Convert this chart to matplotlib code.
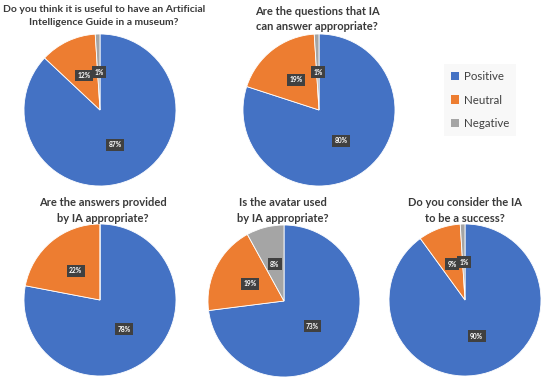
import matplotlib
matplotlib.use('Agg')
import matplotlib.pyplot as plt
from matplotlib.patches import Patch
import numpy as np

plt.rcParams['font.family'] = ['Lato', 'DejaVu Sans']

categories = ['Positive', 'Neutral', 'Negative']
colors = ['#4472C4', '#ED7D31', '#A5A5A5']

titles = [
    'Do you think it is useful to have an Artificial\nIntelligence Guide in a museum?',
    'Are the questions that IA\ncan answer appropriate?',
    'Are the answers provided\nby IA appropriate?',
    'Is the avatar used\nby IA appropriate?',
    'Do you consider the IA\nto be a success?',
]
q1 = [87, 12, 1]
q2 = [80, 19, 1]
q3 = [78, 22, 0]
q4 = [73, 19, 8]
q5 = [90, 9, 1]
answers = [q1, q2, q3, q4, q5]

W, H = 550, 390
# pie centres and radius in pixels, title centre x / top y, title size
centers = [(100, 110), (319, 110), (100, 300), (284, 301), (465, 300)]
radius = 76
title_pos = [(104, 5), (317, 6), (103, 197), (283, 197), (465, 197)]
title_size = [7.5, 8, 8, 8, 8]

fig = plt.figure(figsize=(W / 100, H / 100), dpi=100)

for vals, title, (cx, cy), (tx, ty), fs in zip(answers, titles, centers, title_pos, title_size):
    ax = fig.add_axes([(cx - radius) / W, (H - cy - radius) / H, 2 * radius / W, 2 * radius / H])
    ax.pie(vals, colors=colors, startangle=90, counterclock=False,
           wedgeprops=dict(edgecolor='white', linewidth=0.6))
    # percentage labels in dark boxes
    total = sum(vals)
    ang = 90.0
    for v in vals:
        if v == 0:
            continue
        mid = np.deg2rad(ang - 360.0 * v / total / 2)
        ang -= 360.0 * v / total
        ax.text(0.5 * np.cos(mid), 0.5 * np.sin(mid), f'{v}%', ha='center', va='center',
                fontsize=4.8, fontweight='bold', color='white',
                bbox=dict(boxstyle='square,pad=0.35', fc='#404040', ec='none'))
    ax.set_xlim(-1, 1)
    ax.set_ylim(-1, 1)
    ax.set_aspect('equal')
    fig.text(tx / W, 1 - ty / H, title, ha='center', va='top', fontsize=fs,
             fontweight='bold', color='#3a3a3a', linespacing=1.6 if fs < 8 else 1.5)

handles = [Patch(facecolor=c, edgecolor='none') for c in colors]
leg = fig.legend(handles, categories, loc='center', bbox_to_anchor=(480 / W, 1 - 100 / H),
                 frameon=True, fontsize=8.3, handlelength=0.7, handleheight=0.7,
                 handletextpad=0.4, labelspacing=1.1, borderpad=0.6, fancybox=False)
leg.get_frame().set_facecolor('#f7f7f7')
leg.get_frame().set_edgecolor('none')
for t in leg.get_texts():
    t.set_color('#404040')

fig.savefig('out.png', dpi=100, facecolor='white')
